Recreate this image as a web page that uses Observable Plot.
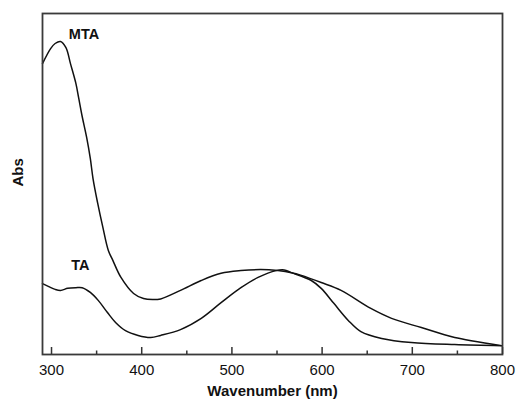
<!DOCTYPE html>
<html>
<head>
<meta charset="utf-8">
<script src="https://cdn.jsdelivr.net/npm/d3@7"></script>
<script src="https://cdn.jsdelivr.net/npm/@observablehq/plot@0.6"></script>
<style>
  html, body { margin: 0; padding: 0; background: #fff; }
  #chart svg { display: block; font-family: Arial, "Liberation Sans", sans-serif; }
</style>
</head>
<body>
<div id="chart"></div>
<script>
// Wavelength (nm) and absorbance (arbitrary units)
const mtaWavelength = [290, 299, 304, 310, 316, 321, 327, 330, 334, 339, 343, 346, 351, 357, 363, 368, 377, 391, 402, 412, 421, 443, 466, 488, 510, 532, 551, 566, 577, 599, 621, 654, 677, 710, 747, 799];
const mtaAbs        = [0.853, 0.897, 0.912, 0.918, 0.900, 0.853, 0.795, 0.754, 0.698, 0.636, 0.575, 0.516, 0.446, 0.372, 0.305, 0.276, 0.226, 0.179, 0.164, 0.161, 0.163, 0.188, 0.217, 0.238, 0.246, 0.249, 0.246, 0.240, 0.232, 0.211, 0.188, 0.135, 0.106, 0.079, 0.050, 0.026];

const taWavelength = [290, 297, 304, 310, 318, 327, 334, 343, 352, 362, 371, 382, 396, 410, 421, 443, 466, 488, 510, 529, 549, 558, 566, 588, 599, 613, 629, 643, 666, 699, 747, 799];
const taAbs        = [0.208, 0.199, 0.191, 0.188, 0.194, 0.196, 0.196, 0.182, 0.158, 0.123, 0.094, 0.070, 0.056, 0.050, 0.056, 0.073, 0.106, 0.152, 0.196, 0.226, 0.246, 0.248, 0.240, 0.217, 0.194, 0.150, 0.100, 0.067, 0.047, 0.035, 0.029, 0.026];

const majorTicks = [300, 400, 500, 600, 700, 800];
const minorTicks = [350, 450, 550, 650, 750];

const seriesLabels = [
  {name: "MTA", wavelength: 336, abs: 0.938},
  {name: "TA", wavelength: 332, abs: 0.261}
];

const xLabel = "Wavenumber (nm)";
const yLabel = "Abs";

const mta = mtaWavelength.map((w, i) => ({wavelength: w, abs: mtaAbs[i]}));
const ta = taWavelength.map((w, i) => ({wavelength: w, abs: taAbs[i]}));

const chart = Plot.plot({
  width: 516,
  height: 405,
  marginLeft: 42,
  marginRight: 14,
  marginTop: 13,
  marginBottom: 51,
  style: {fontFamily: "Arial, 'Liberation Sans', sans-serif", background: "#fff", color: "#111"},
  x: {domain: [290, 800], axis: null},
  y: {domain: [0, 1], axis: null},
  marks: [
    Plot.line(mta, {x: "wavelength", y: "abs", stroke: "#111", strokeWidth: 1.5, curve: "catmull-rom"}),
    Plot.line(ta, {x: "wavelength", y: "abs", stroke: "#111", strokeWidth: 1.5, curve: "catmull-rom"}),
    Plot.frame({stroke: "#3a3a3a", strokeWidth: 1.8}),
    Plot.axisX(majorTicks, {anchor: "bottom", tickSize: -7, strokeWidth: 1.5, stroke: "#333", tickFormat: () => "", label: null}),
    Plot.axisX(minorTicks, {anchor: "bottom", tickSize: -3.5, strokeWidth: 1.5, stroke: "#333", tickFormat: () => "", label: null}),
    Plot.axisX(majorTicks, {anchor: "bottom", tickSize: 0, tickPadding: 10, fontSize: 15, fill: "#111", label: null, tickFormat: d => String(d)}),
    Plot.text([xLabel], {frameAnchor: "bottom", dy: 41.6, text: d => d, fontSize: 15, fontWeight: "bold", fill: "#111"}),
    Plot.text([yLabel], {frameAnchor: "left", dx: -24, dy: 2.5, rotate: -90, text: d => d, fontSize: 15, fontWeight: "bold", fill: "#111"}),
    Plot.text(seriesLabels, {x: "wavelength", y: "abs", text: "name", fontSize: 14.5, fontWeight: "bold", fill: "#111"})
  ]
});

document.getElementById("chart").appendChild(chart);
</script>
</body>
</html>
